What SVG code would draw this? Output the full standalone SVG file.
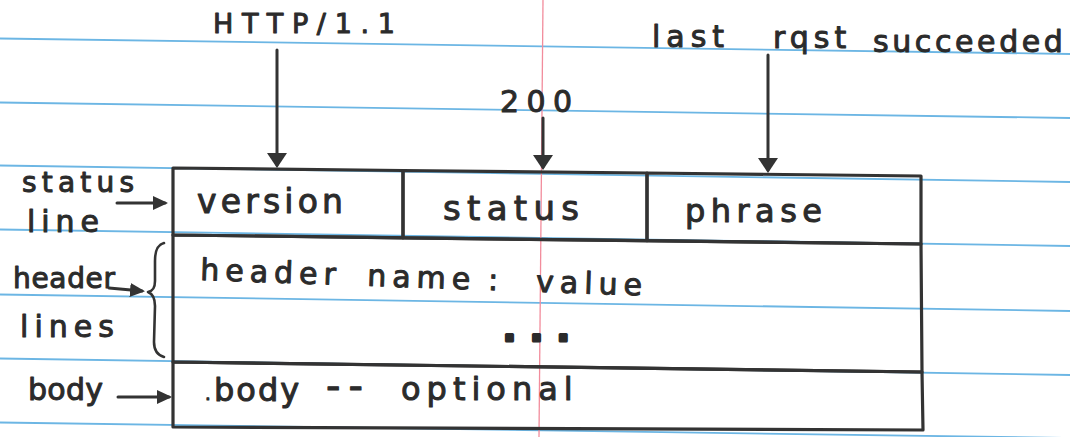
<svg xmlns="http://www.w3.org/2000/svg" width="1070" height="437" viewBox="0 0 1070 437">
<style>
.rule{stroke:#6cb6e4;stroke-width:1.8;fill:none}
.margin{stroke:#f28c9c;stroke-width:1.3;fill:none}
.box{stroke:#333;stroke-width:3.2;fill:none;stroke-linejoin:round;stroke-linecap:round}
.arr{stroke:#333;stroke-width:3;fill:none;stroke-linecap:round}
.brace{stroke:#333;stroke-width:2.6;fill:none;stroke-linecap:round;stroke-linejoin:round}
.t{font-family:"DejaVu Sans","Liberation Sans",sans-serif;fill:#2b2b2b;stroke:#2b2b2b;stroke-width:1;stroke-linejoin:round}
.dots{stroke-width:3.2}
</style>
<defs>
<marker id="ah" viewBox="0 0 15 20" refX="12" refY="10" markerWidth="15" markerHeight="20" markerUnits="userSpaceOnUse" orient="auto">
<path d="M0,0 L15,10 L0,20 Z" fill="#333"/>
</marker>
<marker id="ahs" viewBox="0 0 15 14" refX="12" refY="7" markerWidth="15" markerHeight="14" markerUnits="userSpaceOnUse" orient="auto">
<path d="M0,0 L15,7 L0,14 Z" fill="#333"/>
</marker>
</defs>
<rect x="0" y="0" width="1070" height="437" fill="#ffffff"/>
<g id="paper">
<line class="rule" x1="0" y1="38.5" x2="1070" y2="54"/>
<line class="rule" x1="0" y1="102.5" x2="1070" y2="118"/>
<line class="rule" x1="0" y1="165.5" x2="1070" y2="182"/>
<line class="rule" x1="0" y1="229.5" x2="1070" y2="246"/>
<line class="rule" x1="0" y1="294.5" x2="1070" y2="311"/>
<line class="rule" x1="0" y1="358.5" x2="1070" y2="375"/>
<line class="rule" x1="0" y1="422.5" x2="1070" y2="438"/>
<line class="margin" x1="543" y1="0" x2="539" y2="437"/>
</g>
<g id="node-version">
<path class="box" d="M173,168 L403,170.5 L403,237.8 L173,235 Z"/>
<text class="t" x="197" y="213" font-size="33" textLength="146" lengthAdjust="spacing">version</text>
</g>
<g id="node-status">
<path class="box" d="M403,170.5 L647,173 L647,240.7 L403,237.8 Z"/>
<text class="t" x="443" y="220" font-size="34" textLength="136" lengthAdjust="spacing">status</text>
</g>
<g id="node-phrase">
<path class="box" d="M647,173 L921,176 L921,244 L647,240.7 Z"/>
<text class="t" x="685" y="222" font-size="32" textLength="137" lengthAdjust="spacing">phrase</text>
</g>
<g id="node-header-lines">
<path class="box" d="M173,235 L921,244 L922,372 L173,362 Z"/>
<text class="t" font-size="30" transform="rotate(2 200 280)" letter-spacing="6"><tspan x="200" y="280">header</tspan><tspan x="367" y="280">name</tspan><tspan x="488" y="280">:</tspan><tspan x="536" y="280">value</tspan></text>
<text class="t dots" x="503" y="341" font-size="34" font-weight="bold" letter-spacing="14">...</text>
</g>
<g id="node-body">
<path class="box" d="M173,362 L922,372 L923,430 L173,427 Z"/>
<text class="t" font-size="32"><tspan x="205" y="400" font-size="18">.</tspan><tspan x="214" y="401" letter-spacing="2">body</tspan><tspan x="326" y="400" letter-spacing="8" font-size="40">--</tspan><tspan x="401" y="400" letter-spacing="6">optional</tspan></text>
</g>
<g id="label-http">
<text class="t" x="213" y="33" font-size="27" textLength="182" lengthAdjust="spacing">HTTP/1.1</text>
</g>
<g id="label-200">
<text class="t" x="500" y="112" font-size="30" textLength="72" lengthAdjust="spacing">200</text>
</g>
<g id="label-phrase-example">
<text class="t" font-size="30"><tspan x="652" y="47" letter-spacing="6">last</tspan><tspan x="773" y="48" letter-spacing="5">rqst</tspan><tspan x="873" y="52" letter-spacing="3.6">succeeded</tspan></text>
</g>
<g id="label-status-line">
<text class="t" x="22" y="192" font-size="28" textLength="112" lengthAdjust="spacing">status</text>
<text class="t" x="27" y="232" font-size="30" textLength="72" lengthAdjust="spacing">line</text>
</g>
<g id="label-header-lines">
<text class="t" x="13" y="288" font-size="28" textLength="102" lengthAdjust="spacing">header</text>
<text class="t" x="20" y="337" font-size="30" textLength="94" lengthAdjust="spacing">lines</text>
<path class="brace" d="M164,243 C157,245 155,251 155,261 L155,281 C155,288 153,291 148,292 C153,294 155,298 155,306 L154,342 C154,350 157,355 164,357"/>
</g>
<g id="label-body">
<text class="t" x="28" y="400" font-size="30" textLength="75" lengthAdjust="spacing">body</text>
</g>
<g id="connectors">
<line class="arr" x1="277" y1="50" x2="277" y2="165" marker-end="url(#ah)"/>
<line class="arr" x1="543" y1="118" x2="543" y2="167" marker-end="url(#ah)"/>
<line class="arr" x1="768" y1="55" x2="768" y2="170" marker-end="url(#ah)"/>
<line class="arr" x1="117" y1="203" x2="165" y2="203" marker-end="url(#ahs)"/>
<line class="arr" x1="109" y1="288" x2="142" y2="291" marker-end="url(#ahs)"/>
<line class="arr" x1="118" y1="397" x2="169" y2="397" marker-end="url(#ahs)"/>
</g>
</svg>
